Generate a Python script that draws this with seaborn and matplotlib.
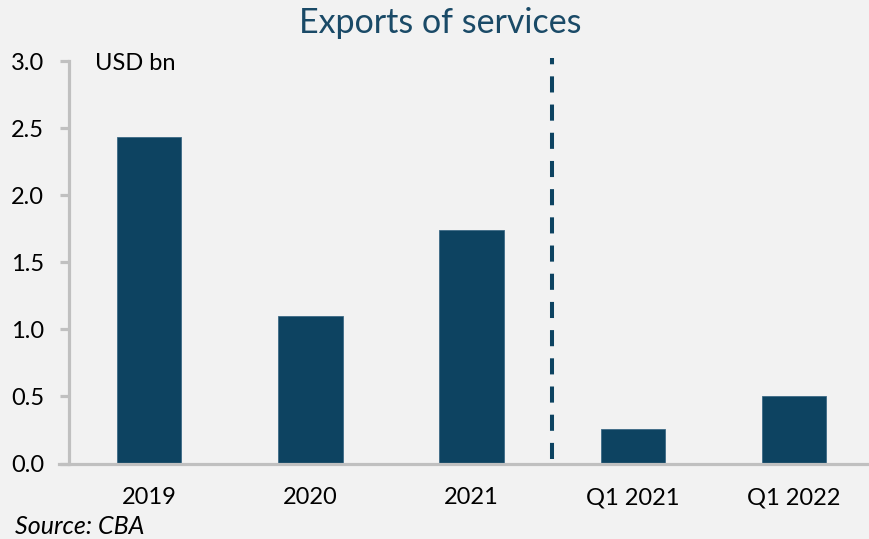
import matplotlib
matplotlib.use("Agg")
import matplotlib.pyplot as plt
import seaborn as sns
import pandas as pd

# Exports of services, USD bn
categories = ["2019", "2020", "2021", "Q1 2021", "Q1 2022"]
values = [2.43, 1.10, 1.74, 0.26, 0.50]
y_ticks = [0.0, 0.5, 1.0, 1.5, 2.0, 2.5, 3.0]
y_tick_labels = ["0.0", "0.5", "1.0", "1.5", "2.0", "2.5", "3.0"]
# annual / quarterly separator (between category 2 and 3)
separator_x = 2.5
separator_y = [0.03, 3.02]

BG = "#f2f2f2"
BAR = "#0d4361"
AXIS = "#c0c0c0"
TITLE = "#1a4a67"

sns.set_theme(style="white")
plt.rcParams["font.family"] = ["Lato", "DejaVu Sans"]

df = pd.DataFrame({"period": categories, "value": values})

fig = plt.figure(figsize=(8.69, 5.39), dpi=100, facecolor=BG)
ax = fig.add_axes([68.5 / 869, 75.5 / 539, 800.5 / 869, 402.5 / 539])
ax.set_facecolor(BG)

sns.barplot(data=df, x="period", y="value", color=BAR, width=0.4,
            saturation=1, edgecolor="#3d6a86", linewidth=0.6, ax=ax)

ax.plot([separator_x, separator_x], separator_y, color=BAR, lw=2.9,
        linestyle=(0, (4, 3)), solid_capstyle="butt", dash_capstyle="butt",
        clip_on=False)

ax.set_xlim(-0.499, 4.464)
ax.set_ylim(0, 3.0)
ax.set_yticks(y_ticks)
ax.set_yticklabels(y_tick_labels)
ax.set_xlabel("")
ax.set_ylabel("")

for side in ("top", "right"):
    ax.spines[side].set_visible(False)
for side in ("left", "bottom"):
    ax.spines[side].set_color(AXIS)
    ax.spines[side].set_linewidth(2.3)
ax.spines["bottom"].set_bounds(-0.556, 4.464)

ax.tick_params(axis="y", direction="out", length=6.5, width=2.3, color=AXIS,
               labelsize=17, labelcolor="black", pad=11, left=True)
ax.tick_params(axis="x", length=0, labelsize=17, labelcolor="black", pad=17)

ax.text(-0.334, 2.93, "USD bn", fontsize=17, color="black", va="baseline",
        ha="left")

fig.text(440 / 869, 1 - 23 / 539, "Exports of services", fontsize=24.5,
         color=TITLE, ha="center", va="center")
fig.text(15 / 869, 5 / 539, "Source: CBA", fontsize=18, style="italic",
         color="black", ha="left", va="baseline")

fig.savefig("out.png", dpi=100, facecolor=BG)
